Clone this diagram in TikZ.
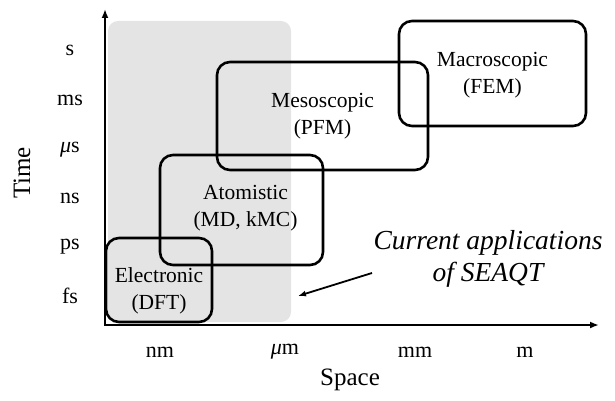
\documentclass[tikz,border=0pt]{standalone}
\usepackage{fontspec}
\setmainfont{Liberation Serif}
\usepackage{xcolor}
\usepackage{tikz}
\usetikzlibrary{arrows.meta,positioning}
\definecolor{regiongray}{RGB}{228,228,228}
\definecolor{ink}{RGB}{0,0,0}

\begin{document}
\begin{tikzpicture}[x=1pt, y=-1pt,
  scalebox/.style={draw=ink, line width=2.6pt, rounded corners=13pt, inner sep=0pt},
  lbl/.style={align=center, font=\fontsize{21.5}{27}\selectfont},
  tick/.style={font=\fontsize{22}{26}\selectfont},
  axtitle/.style={font=\fontsize{25}{30}\selectfont},
  axis/.style={-{Latex[length=9pt,width=7pt]}, line width=2.4pt, draw=ink},
  arr/.style={-{Latex[length=8pt,width=6pt]}, line width=1.8pt, draw=ink}
]
  \useasboundingbox (0,0) rectangle (615,401);
  % shaded region
  \fill[regiongray, rounded corners=10pt] (108,21) rectangle (291,322);
  % axes
  \coordinate (origin) at (105,325);
  \coordinate (ytop) at (105,9);
  \coordinate (xend) at (599,325);
  \draw[axis] (origin) -- (ytop);
  \draw[axis] ([xshift=-1.2pt]origin) -- (xend);
  % scale boxes
  \node[scalebox, minimum width=106pt, minimum height=84pt] (elec) at (159,280) {};
  \node[scalebox, minimum width=163pt, minimum height=110pt] (atom) at (241.5,210) {};
  \node[scalebox, minimum width=211pt, minimum height=108pt] (meso) at (322.5,116) {};
  \node[scalebox, minimum width=187pt, minimum height=105pt] (macro) at (492.5,73.5) {};
  \node[lbl] (elecl) at ([yshift=-11pt]elec.center) {Electronic\\(DFT)};
  \node[lbl] (atoml) at ([xshift=4pt, yshift=2pt]atom.center) {Atomistic\\(MD, kMC)};
  \node[lbl] (mesol) at (meso.center) {Mesoscopic\\(PFM)};
  \node[lbl] (macrol) at ([yshift=-1.5pt]macro.center) {Macroscopic\\(FEM)};
  % time ticks
  \node[tick] (ts) at (70,50) {s};
  \node[tick] (tms) at (70,100) {ms};
  \node[tick] (tus) at (70,150) {\textit{μ}s};
  \node[tick] (tns) at (70,198) {ns};
  \node[tick] (tps) at (70,247) {ps};
  \node[tick] (tfs) at (70,296) {fs};
  \node[axtitle, rotate=90] (time) at (22,173) {Time};
  % space ticks
  \node[tick] (snm) at (160,352) {nm};
  \node[tick] (sum) at (285,352) {\textit{μ}m};
  \node[tick] (smm) at (415,352) {mm};
  \node[tick] (sm) at (525,352) {m};
  \node[axtitle] (space) at (350,380) {Space};
  % annotation
  \node[align=center, font=\fontsize{27.5}{32}\itshape] (note) at (488,259) {Current applications\\of SEAQT};
  \coordinate (tip) at (298,296);
  \draw[arr] ([xshift=-116pt, yshift=-14pt]note.center) -- (tip);
\end{tikzpicture}
\end{document}
